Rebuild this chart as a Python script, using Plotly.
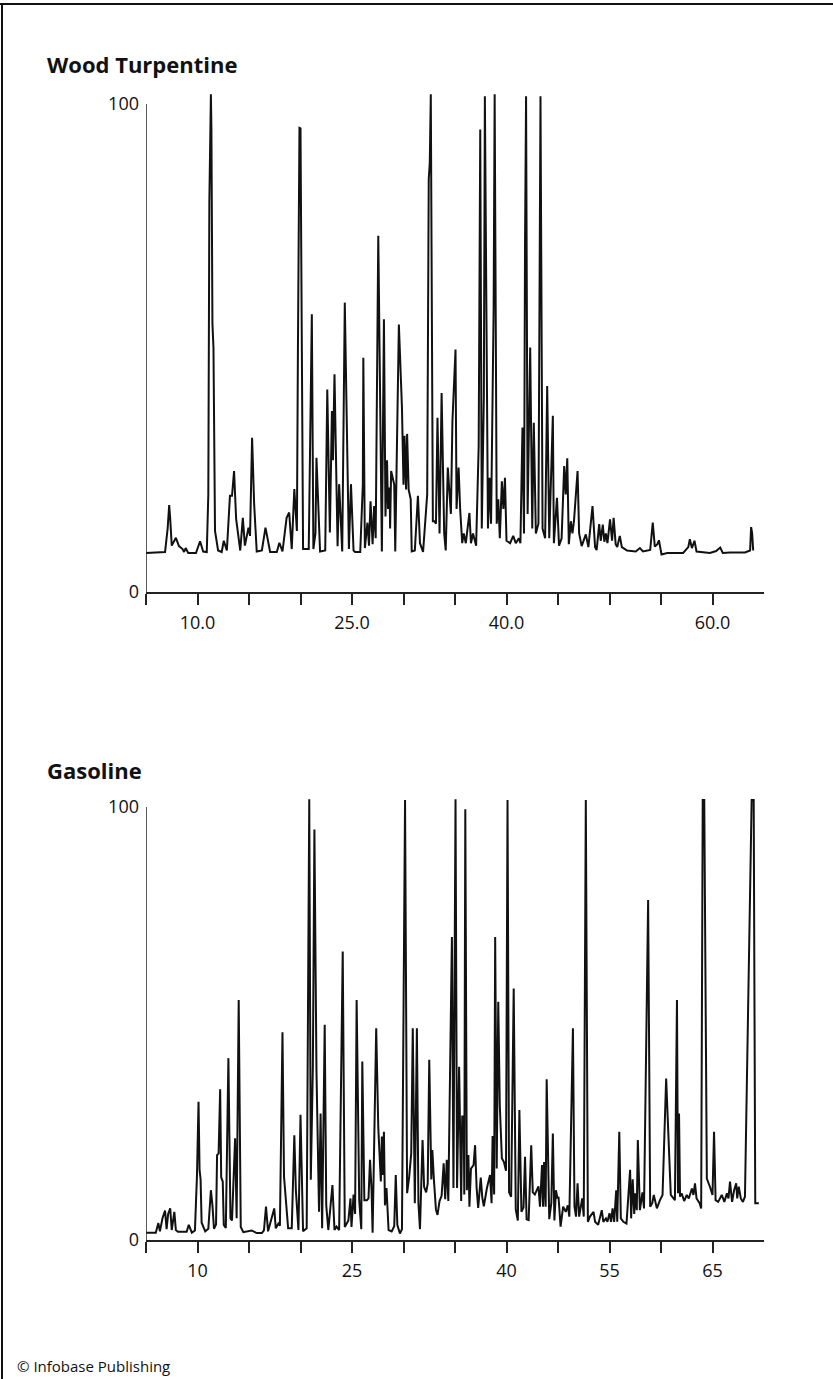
import plotly.graph_objects as go

# ---------------- data (x in axis divisions, y in relative response %) -------------
turp_x = [0.00, 0.37, 0.42, 0.45, 0.47, 0.50, 0.58, 0.64, 0.71, 0.74, 0.77, 0.82, 0.97, 1.05, 1.11,
          1.18, 1.21, 1.23, 1.26, 1.27, 1.29, 1.31, 1.34, 1.40, 1.47, 1.51, 1.57, 1.60, 1.63, 1.67,
          1.71, 1.75, 1.79, 1.83, 1.88, 1.92, 1.99, 2.02, 2.06, 2.10, 2.15, 2.25, 2.32, 2.41, 2.54,
          2.59, 2.65, 2.70, 2.73, 2.78, 2.83, 2.88, 2.93, 2.95, 2.98, 3.00, 3.05, 3.16, 3.20, 3.22,
          3.25, 3.29, 3.31, 3.35, 3.38, 3.48, 3.52, 3.57, 3.61, 3.63, 3.66, 3.72, 3.75, 3.81, 3.83,
          3.86, 3.94, 3.98, 4.03, 4.06, 4.16, 4.21, 4.22, 4.25, 4.30, 4.33, 4.36, 4.40, 4.43, 4.46,
          4.51, 4.58, 4.62, 4.64, 4.65, 4.68, 4.70, 4.73, 4.74, 4.76, 4.82, 4.84, 4.91, 4.97, 5.00,
          5.02, 5.05, 5.07, 5.10, 5.14, 5.16, 5.22, 5.28, 5.32, 5.38, 5.46, 5.49, 5.51, 5.53, 5.57,
          5.60, 5.63, 5.66, 5.70, 5.74, 5.79, 5.82, 5.86, 5.92, 5.95, 6.01, 6.03, 6.07, 6.10, 6.14,
          6.17, 6.21, 6.28, 6.31, 6.35, 6.41, 6.46, 6.49, 6.52, 6.56, 6.58, 6.62, 6.64, 6.67, 6.70,
          6.75, 6.77, 6.81, 6.84, 6.87, 6.91, 6.94, 6.97, 7.00, 7.07, 7.13, 7.18, 7.24, 7.27, 7.31,
          7.34, 7.36, 7.38, 7.41, 7.46, 7.50, 7.53, 7.57, 7.62, 7.66, 7.70, 7.75, 7.79, 7.83, 7.90,
          7.92, 7.98, 8.02, 8.07, 8.12, 8.15, 8.18, 8.21, 8.25, 8.28, 8.31, 8.34, 8.38, 8.41, 8.46,
          8.54, 8.59, 8.67, 8.72, 8.75, 8.80, 8.83, 8.87, 8.90, 8.93, 8.96, 9.01, 9.05, 9.08, 9.12,
          9.15, 9.20, 9.24, 9.30, 9.34, 9.51, 9.59, 9.65, 9.73, 9.79, 9.84, 9.88, 9.93, 9.96, 10.01,
          10.12, 10.27, 10.43, 10.53, 10.56, 10.60, 10.65, 10.69, 10.76, 10.95, 11.07, 11.15, 11.20,
          11.34, 11.63, 11.73, 11.75, 11.77, 11.79]
turp_y = [8.0, 8.2, 13, 17.8, 15, 9.5, 11.1, 9.4, 8.8, 8.2, 9.0, 8.0, 8.0, 10.4, 8.3,
          8.2, 20, 80, 102, 95, 55, 50, 12.5, 8.5, 8.2, 10.5, 8.5, 14, 19.7, 19.7,
          24.8, 15, 12, 8.5, 15.2, 9.5, 13.2, 11.5, 31.6, 18, 8.3, 8.5, 13.2, 8.2, 8.2,
          10.1, 8.3, 12, 15.2, 16.3, 8.8, 21.1, 12.5, 50, 95.1, 95, 8.8, 8.8, 40, 56.9,
          8.8, 12, 27.5, 14, 8.3, 8.5, 41.5, 12.2, 37.1, 27, 44.6, 9.4, 22.1, 8.3, 30,
          59.3, 8.8, 22.1, 8.5, 8.2, 8.2, 22, 48.0, 9, 14.2, 9.5, 18.6, 9.8, 17.6, 11,
          73, 8.3, 55.9, 28.5, 15.5, 27, 17, 21.4, 13, 24.8, 22, 8.3, 54.8, 37.8, 22,
          32, 21, 32.4, 21, 19, 8.3, 8.5, 19.7, 10, 8.2, 20, 84.6, 88, 102, 14.5,
          14.5, 14, 35.7, 12, 40.8, 12, 8.5, 25.5, 16, 35, 49.7, 17, 25.5, 17, 10,
          12, 10, 16.2, 10, 12, 9.5, 30, 94.8, 13, 40, 101.6, 30, 13, 23.4, 14,
          58, 102, 14, 19, 11, 22.7, 17, 23.4, 10.5, 10, 11.5, 10, 11, 10, 33.7,
          12, 72, 101.6, 16, 50.1, 13, 34.7, 12, 14, 101.6, 13, 11, 42.2, 11, 36.1,
          10, 19.3, 9.5, 11, 25.8, 20, 27.4, 9.8, 14.5, 12, 14.5, 20, 24.8, 12, 9.4,
          11.8, 9.2, 17.6, 9.2, 8.6, 13.9, 10.5, 13.8, 10.3, 12, 10, 14.9, 10.5, 15.2, 9.8,
          9.2, 11.5, 9.2, 8.8, 8.5, 8.3, 9.0, 8.3, 8.4, 8.6, 14.2, 9.3, 9.8, 10.6, 7.7,
          8.0, 8.0, 8.0, 9.2, 10.8, 9.0, 10.5, 8.3, 8.2, 8.0, 8.4, 9.1, 8.0,
          8.1, 8.1, 8.5, 13.3, 12, 8.5]

gas_x = [0.00, 0.19, 0.24, 0.27, 0.32, 0.37, 0.40, 0.43, 0.47, 0.50, 0.55, 0.58, 0.62, 0.79, 0.83,
         0.89, 0.95, 0.99, 1.02, 1.04, 1.06, 1.08, 1.15, 1.21, 1.26, 1.29, 1.32, 1.36, 1.38, 1.41,
         1.44, 1.46, 1.49, 1.51, 1.55, 1.60, 1.64, 1.67, 1.73, 1.76, 1.80, 1.84, 1.89, 2.05, 2.15,
         2.25, 2.29, 2.33, 2.37, 2.44, 2.49, 2.52, 2.57, 2.60, 2.65, 2.68, 2.73, 2.76, 2.83, 2.88,
         2.91, 2.96, 3.00, 3.05, 3.12, 3.17, 3.20, 3.24, 3.27, 3.31, 3.36, 3.39, 3.42, 3.47, 3.50,
         3.54, 3.62, 3.66, 3.70, 3.75, 3.82, 3.86, 3.93, 3.97, 3.99, 4.03, 4.06, 4.09, 4.14, 4.18,
         4.20, 4.24, 4.29, 4.32, 4.35, 4.38, 4.40, 4.47, 4.51, 4.56, 4.58, 4.60, 4.62, 4.64, 4.67,
         4.71, 4.77, 4.82, 4.85, 4.88, 4.93, 4.97, 5.03, 5.07, 5.11, 5.15, 5.18, 5.22, 5.26, 5.29,
         5.32, 5.37, 5.40, 5.44, 5.47, 5.50, 5.54, 5.56, 5.59, 5.63, 5.66, 5.70, 5.74, 5.78, 5.81,
         5.84, 5.87, 5.94, 5.97, 6.01, 6.04, 6.08, 6.12, 6.14, 6.17, 6.18, 6.20, 6.23, 6.26, 6.28,
         6.31, 6.36, 6.39, 6.42, 6.45, 6.50, 6.53, 6.56, 6.62, 6.68, 6.71, 6.73, 6.76, 6.78, 6.81,
         6.84, 6.87, 6.91, 6.95, 6.99, 7.02, 7.05, 7.09, 7.14, 7.18, 7.22, 7.25, 7.29, 7.33, 7.36,
         7.39, 7.43, 7.48, 7.51, 7.55, 7.62, 7.65, 7.69, 7.71, 7.73, 7.76, 7.78, 7.83, 7.87, 7.90,
         7.93, 7.96, 7.99, 8.01, 8.05, 8.10, 8.15, 8.19, 8.22, 8.29, 8.32, 8.35, 8.38, 8.41, 8.47,
         8.50, 8.54, 8.58, 8.62, 8.69, 8.72, 8.78, 8.85, 8.88, 8.93, 8.96, 9.00, 9.03, 9.06, 9.09,
         9.13, 9.15, 9.19, 9.22, 9.27, 9.33, 9.40, 9.42, 9.45, 9.48, 9.50, 9.53, 9.55, 9.59, 9.64,
         9.67, 9.75, 9.79, 9.83, 9.86, 9.92, 9.98, 10.03, 10.10, 10.14, 10.17, 10.19, 10.27, 10.31, 10.33,
         10.35, 10.37, 10.40, 10.45, 10.50, 10.54, 10.60, 10.63, 10.66, 10.69, 10.75, 10.78, 10.81, 10.84, 10.89,
         10.95, 11.00, 11.03, 11.06, 11.11, 11.18, 11.23, 11.28, 11.31, 11.34, 11.38, 11.42, 11.46, 11.48, 11.51,
         11.55, 11.59, 11.63, 11.76, 11.80, 11.83, 11.90]
gas_y = [1.7, 1.7, 3.9, 2, 5, 6.8, 2.5, 6, 7.3, 2.3, 6.5, 2.3, 1.9, 1.9, 3.5,
         1.7, 2.2, 15, 31.9, 16.2, 14, 4, 2, 2.6, 11.5, 8, 2.6, 3.6, 19.6, 20,
         34.8, 14.5, 13.5, 3.5, 2.8, 42, 5, 4.5, 23.5, 5, 55.4, 3, 1.8, 2.2, 1.6,
         1.6, 2.2, 7.7, 2.0, 5, 7.3, 2.7, 3.8, 3.3, 48, 14.6, 7.9, 2.7, 2.7, 24.2,
         11.5, 2.3, 28.9, 2, 2.7, 101.8, 13.9, 40, 94.8, 39, 6.5, 29.2, 2.7, 49.7, 8,
         2.3, 12.7, 2.3, 3.1, 2.3, 66.6, 3, 4.5, 9.6, 3, 10.5, 6, 55.4, 9.2, 2.5,
         41.2, 9.2, 9.2, 9.6, 18.5, 11.5, 1.7, 48.9, 26, 13.5, 23.9, 15, 25, 8, 12,
         2.3, 2, 3.2, 15, 3.5, 1.5, 2.5, 101.6, 10.8, 14.6, 20, 48.9, 8.5, 48.9, 8.5,
         2.5, 23.1, 12.3, 11, 13, 41.6, 14, 20.8, 14, 7, 5.8, 9, 10.2, 17.7, 9.4,
         18.5, 9, 70, 12, 101.8, 12, 40, 9, 28.5, 28.5, 10.5, 99.5, 11.5, 19.6, 7.7,
         16.5, 17.3, 21.9, 12, 7.4, 14.4, 9.8, 7.8, 12, 15, 8.5, 24, 10.5, 70, 16.5,
         55, 31, 18.9, 18, 16, 101.6, 11, 10, 58.1, 7, 4.5, 30, 6.5, 7.5, 19.2,
         4.8, 4.6, 21.9, 11, 10.5, 12.4, 7.7, 17.3, 7.7, 18, 7.7, 37.1, 4.8, 8.5, 24.6,
         4.5, 11.5, 9.6, 10, 3.1, 7.7, 6.5, 8, 5.4, 48.9, 7.7, 5.4, 13.1, 5.4, 9.6,
         5.4, 101.6, 4.2, 5.4, 6.5, 4.2, 3.5, 6.9, 4.2, 5, 4.2, 6.2, 4.2, 7.3, 4.2,
         11.5, 4.2, 25, 5, 4.2, 3.8, 16.2, 5, 14, 6, 10.8, 6.9, 23.1, 6.9, 11,
         7.3, 78.5, 7.7, 8.5, 10.4, 7.3, 9.2, 10.4, 37.3, 26, 18.5, 10.4, 9.2, 55.4, 10.8,
         29.2, 10, 10.8, 9, 10.4, 9.6, 11.9, 10.4, 13.1, 9.6, 8.5, 7.3, 101.6, 101.6, 14.2,
         12.3, 10.4, 25, 9.2, 8.8, 10.4, 8.8, 10.8, 9.6, 13.5, 8.8, 11.5, 13.1, 9.6, 12.3,
         9.6, 8.8, 10, 101.6, 101.6, 8.5, 8.5]

tick_vals = [0, 1, 2, 3, 4, 5, 6, 7, 8, 9, 10, 11]
turp_tick_text = ["", "10.0", "", "", "25.0", "", "", "40.0", "", "", "", "60.0"]
gas_tick_text = ["", "10", "", "", "25", "", "", "40", "", "55", "", "65"]
y_tick_vals = [0, 100]
y_tick_text = ["0", "100"]

panel_titles = ["Wood Turpentine", "Gasoline"]
credit = "© Infobase Publishing"

# ---------------- figure ----------------
W, H = 833, 1379
FONT = "Open Sans, Noto Sans, DejaVu Sans, sans-serif"
INK = "#111111"

fig = go.Figure()
fig.add_trace(go.Scatter(x=turp_x, y=turp_y, mode="lines",
                         line=dict(color=INK, width=2), xaxis="x", yaxis="y",
                         showlegend=False, hoverinfo="skip"))
fig.add_trace(go.Scatter(x=gas_x, y=gas_y, mode="lines",
                         line=dict(color=INK, width=2), xaxis="x2", yaxis="y2",
                         showlegend=False, hoverinfo="skip"))

xdom = [146 / W, 764 / W]
dom_top = [1 - 592 / H, 1 - 89.4 / H]
dom_bot = [1 - 1240 / H, 1 - 794 / H]

def xax(ticktext):
    return dict(domain=xdom, range=[0, 12], tickmode="array", tickvals=tick_vals,
                ticktext=ticktext, ticks="outside", ticklen=11, tickwidth=1.5,
                tickcolor="#222", showline=True, linecolor="#222", linewidth=1.5,
                showgrid=False, zeroline=False, fixedrange=True, automargin=False,
                tickfont=dict(family=FONT, size=18, color=INK), ticklabelstandoff=3)

def yax(domain):
    return dict(domain=domain, range=[0, 103], tickmode="array", tickvals=y_tick_vals,
                ticktext=y_tick_text, ticks="", showline=False, showgrid=False,
                zeroline=False, fixedrange=True, automargin=False,
                tickfont=dict(family=FONT, size=18, color=INK), ticklabelstandoff=6)

fig.update_layout(
    width=W, height=H, margin=dict(l=0, r=0, t=0, b=0, pad=0, autoexpand=False),
    paper_bgcolor="white", plot_bgcolor="white",
    xaxis=dict(anchor="y", **xax(turp_tick_text)),
    yaxis=dict(anchor="x", **yax(dom_top)),
    xaxis2=dict(anchor="y2", **xax(gas_tick_text)),
    yaxis2=dict(anchor="x2", **yax(dom_bot)),
    showlegend=False,
)

shapes = [
    # vertical axis lines (0 to 100)
    dict(type="line", xref="x", yref="y", x0=0, x1=0, y0=0, y1=100,
         line=dict(color="#222", width=1.5)),
    dict(type="line", xref="x2", yref="y2", x0=0, x1=0, y0=0, y1=100,
         line=dict(color="#222", width=1.5)),
    # frame of the illustration (top and left edges visible)
    dict(type="line", xref="paper", yref="paper", x0=0, x1=1, y0=1 - 4 / H, y1=1 - 4 / H,
         line=dict(color=INK, width=2)),
    dict(type="line", xref="paper", yref="paper", x0=2 / W, x1=2 / W, y0=0, y1=1 - 4 / H,
         line=dict(color=INK, width=2)),
]
fig.update_layout(shapes=shapes)

annotations = [
    dict(text="<b>%s</b>" % panel_titles[0], xref="paper", yref="paper",
         x=45 / W, y=1 - 64 / H, xanchor="left", yanchor="middle", showarrow=False,
         font=dict(family=FONT, size=22, color=INK)),
    dict(text="<b>%s</b>" % panel_titles[1], xref="paper", yref="paper",
         x=45 / W, y=1 - 770 / H, xanchor="left", yanchor="middle", showarrow=False,
         font=dict(family=FONT, size=22, color=INK)),
    dict(text=credit, xref="paper", yref="paper",
         x=15 / W, y=1 - 1366 / H, xanchor="left", yanchor="middle", showarrow=False,
         font=dict(family=FONT, size=15, color=INK)),
]
fig.update_layout(annotations=annotations)

page_fix = (
    "var s=document.createElement('style');"
    "s.textContent='html,body{margin:0;padding:0;overflow:hidden;}';"
    "document.head.appendChild(s);"
)

fig.write_html("out.html", config={"displayModeBar": False},
               post_script=page_fix)
